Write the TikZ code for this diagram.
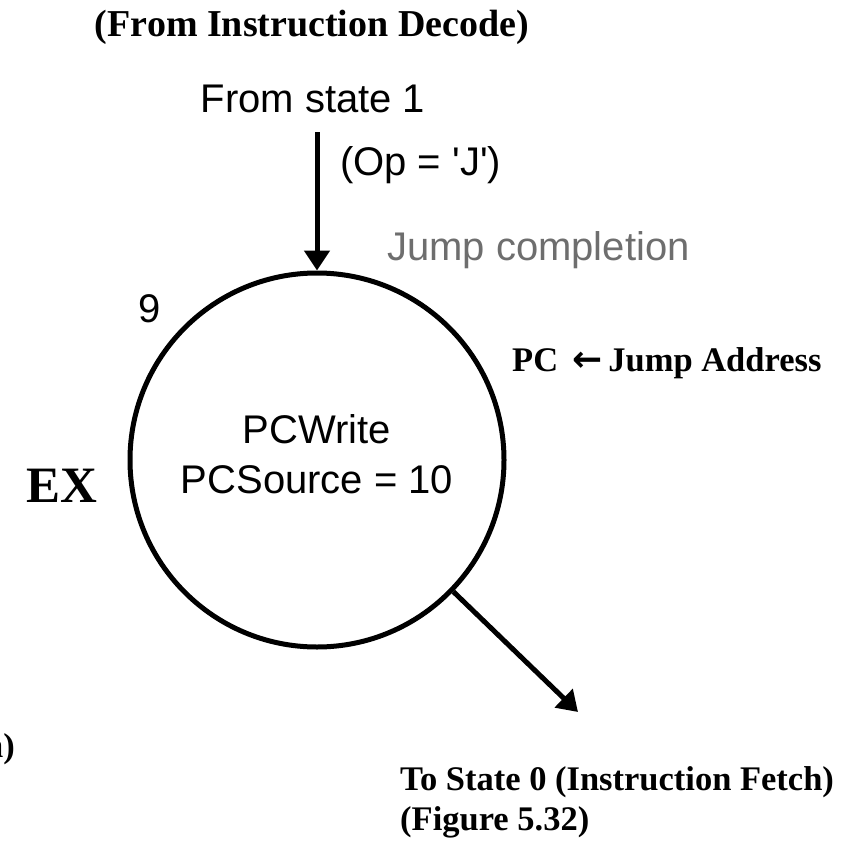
\documentclass[tikz,border=0pt]{standalone}
\usepackage{fontspec}
\setmainfont{Liberation Serif}
\setsansfont{Liberation Sans}
\newfontfamily\arrowfont{DejaVu Sans}
\usetikzlibrary{arrows.meta}
\definecolor{grayTxt}{RGB}{110,110,110}
\begin{document}
\begin{tikzpicture}[x=1pt,y=-1pt,
  lbl/.style={font=\sffamily\fontsize{40}{46}\selectfont, inner sep=0pt},
  bld/.style={font=\bfseries\fontsize{34.5}{40}\selectfont, inner sep=0pt},
  flow/.style={line width=5pt, -{Triangle[length=20pt,width=25pt]}},
  statebox/.style={draw, circle, line width=5pt, minimum size=374pt, inner sep=0pt}
  ]
\useasboundingbox (0,0) rectangle (848,843);
% titles
\node[bld, font=\bfseries\fontsize{38}{44}\selectfont, anchor=base] (title) at (312,37) {(From Instruction Decode)};
\node[lbl, anchor=base] (from) at (313,112) {From state 1};
\coordinate (src) at (317,132);
% state
\node[statebox] (s9) at (317,460) {};
\draw[flow] (src) -- (s9.north);
\node[lbl, anchor=base west] (cond) at (340,175) {(Op = \textquotesingle J\textquotesingle)};
\node[lbl, anchor=base west, text=grayTxt] (jc) at (387,260) {Jump completion};
\node[lbl, anchor=base west] (num) at (138,322) {9};
\node[lbl, anchor=base] (pcw) at (317,443) {PCWrite};
\node[lbl, anchor=base] (pcs) at (317,493) {PCSource = 10};
\node[bld, anchor=base west] (act) at (512,371) {PC\hspace{14pt}{\arrowfont\fontsize{36}{40}\selectfont ←}\hspace{6pt}Jump Address};
\node[bld, font=\bfseries\fontsize{51}{56}\selectfont, anchor=base east] (ex) at (98,502) {EX};
% exit
\coordinate (exit) at (578,712);
\draw[flow] (s9) -- (exit);
\node[bld, anchor=base west] (to0) at (400,790) {To State 0 (Instruction Fetch)};
\node[bld, anchor=base west] (fig) at (400,830) {(Figure 5.32)};
\node[bld, anchor=base east] (frag) at (15,757) {n)};
\end{tikzpicture}
\end{document}
